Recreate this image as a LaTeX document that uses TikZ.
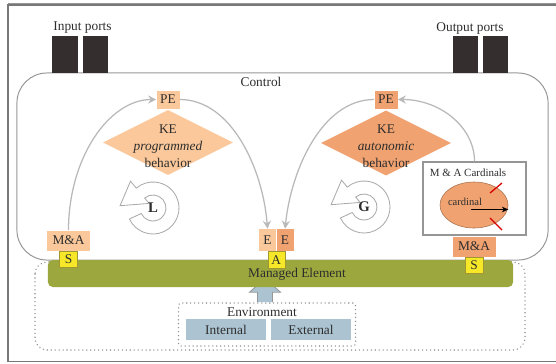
\documentclass[tikz,border=0pt]{standalone}
\usepackage{fontspec}
\setmainfont{Liberation Serif}
\usetikzlibrary{positioning,shapes.geometric,arrows.meta,calc}
\definecolor{peLight}{RGB}{250,200,155}
\definecolor{peDark}{RGB}{240,162,112}
\definecolor{sYellow}{RGB}{246,232,40}
\definecolor{sBorder}{RGB}{160,150,50}
\definecolor{meGreen}{RGB}{156,168,62}
\definecolor{envBlue}{RGB}{172,196,210}
\definecolor{portDark}{RGB}{52,46,46}
\definecolor{lineGray}{RGB}{150,150,150}
\definecolor{loopGray}{RGB}{185,185,185}
\definecolor{txtGray}{RGB}{45,45,45}
\tikzset{
  every node/.style={font=\fontsize{9.5}{12}\selectfont, text=txtGray, inner sep=0pt},
  port/.style={fill=portDark, minimum width=0.625cm, minimum height=0.925cm},
  pe/.style={minimum width=0.575cm, minimum height=0.45cm},
  ke/.style={diamond, minimum width=3.25cm, minimum height=1.625cm},
  ma/.style={minimum width=1.075cm, minimum height=0.5cm},
  sens/.style={fill=sYellow, draw=sBorder, line width=0.4pt, minimum width=0.45cm, minimum height=0.4cm},
  eff/.style={minimum width=0.425cm, minimum height=0.55cm},
  envpart/.style={fill=envBlue, minimum width=1.975cm, minimum height=0.525cm},
  dots/.style={draw=lineGray, line width=1.1pt, line cap=round, dash pattern=on 0.01pt off 2.8pt},
  loopline/.style={draw=loopGray, line width=0.9pt, -{Stealth[length=2mm, width=2mm]}},
  spin/.style={fill=white, draw=lineGray!80, line width=0.6pt},
}
% rotating arrow with a letter inside
\newcommand{\spinicon}[4]{%
  \begin{scope}[shift={(#2,#3)}, yscale=-1]
    \draw[spin] (205:26) arc[start angle=205, end angle=490, radius=26]
      -- (130:35) -- (176:33) -- (130:6) -- (130:13)
      arc[start angle=130, end angle=-155, radius=13] -- cycle;
    \node (#1) [font=\fontsize{10.5}{12}\selectfont\bfseries] at (0,0) {#4};
  \end{scope}}

\begin{document}
\begin{tikzpicture}[x=0.025cm, y=-0.025cm]
\useasboundingbox (0,0) rectangle (556,363);
\draw[lineGray!80!black, line width=0.8pt] (600,5) -- (8,5) -- (8,361.5) -- (600,361.5);
\draw[lineGray, line width=0.5pt] (8,3) -- (600,3);

% managed scope and control
\draw[dots, rounded corners=0.3cm] (35,262) rectangle (525,350);
\node (control) [draw=lineGray, line width=0.7pt, rounded corners=0.75cm,
  minimum width=13.275cm, minimum height=4.675cm] at (282.5,166.5) {};
\node (controltxt) at (261,82) {Control};

% ports
\node (inA) [port] at (65,54.5) {};
\node (inB) [port] at (95.5,54.5) {};
\node (intxt) at (82.5,28) {Input ports};
\node (outA) [port] at (465.5,54.5) {};
\node (outB) [port] at (495.5,54.5) {};
\node (outtxt) at (470,28) {Output ports};

% environment
\node (env) [dots, rounded corners=2pt, minimum width=4.425cm, minimum height=1.075cm] at (267,324.5) {};
\node (envtxt) at (262,312.5) {Environment};
\node (internal) [envpart] at (226,329.5) {Internal};
\node (external) [envpart] at (311,329.5) {External};
\coordinate (upbase) at ($(env.north)+(-2,0)$);
\draw[fill=envBlue, draw=lineGray, line width=0.6pt]
  ($(upbase)+(-7.5,0)$) -- ++(0,-10) -- ++(-8,0) -- ($(upbase)+(0,-24)$)
  -- ($(upbase)+(15.5,-10)$) -- ++(-8,0) -- ($(upbase)+(7.5,0)$);

% managed element
\node (managed) [fill=meGreen, rounded corners=0.12cm, minimum width=11.625cm, minimum height=0.675cm] at (280.5,273.5) {};
\node (managedtxt) at (297,274) {Managed Element};

% programmed loop
\node (keL) [ke, fill=peLight] at (168,142.5) {};
\node (keLtxt) [align=center] at (168,146) {KE\\\textit{programmed}\\behavior};
\node (peL) [pe, fill=peLight] at (168,99.5) {PE};
\node (maL) [ma, fill=peLight] at (68.5,240.5) {M\&A};
\node (sL) [sens, below=0pt of maL] {S};
\node (eL) [eff, fill=peLight] at (267.5,240) {E};
\node (eR) [eff, fill=peDark, right=0pt of eL] {E};
\node (act) [sens, minimum width=0.425cm, minimum height=0.425cm, anchor=north] at (eL.south east) {A};

% autonomic loop
\node (keR) [ke, fill=peDark] at (386,143) {};
\node (keRtxt) [align=center] at (386,146) {KE\\\textit{autonomic}\\behavior};
\node (peR) [pe, fill=peDark] at (386,99.5) {PE};
\node (card) [draw=lineGray, line width=0.8pt, fill=white, minimum width=2.575cm, minimum height=1.825cm] at (474.5,198.5) {};
\node (cardtxt) [font=\fontsize{7.8}{9}\selectfont] at (468,173) {M \& A Cardinals};
\node (cardell) [ellipse, fill=peDark, draw=peDark!70!black, line width=0.4pt, minimum width=1.7cm, minimum height=1.15cm] at (474,205) {};
\node (cardlbl) [font=\fontsize{7.5}{9}\selectfont] at (465,202) {cardinal};
\coordinate (cardtail) at (471,209.5);
\draw[-{Stealth[length=1.6mm, width=1.4mm]}, line width=0.5pt] (cardtail) -- (cardtail -| cardell.east);
\draw[red!85!black, line width=0.9pt] (490,193) -- (502,183) (490,218) -- (502,230);
\node (maR) [ma, fill=peDark] at (474,246.5) {M\&A};
\node (sR) [sens, below=0pt of maR] {S};

% loops
\draw[loopline] (maL.north) .. controls (68.5,158) and (109,99.5) .. (peL.west);
\draw[loopline] (peL.east) .. controls (232,99.5) and (263,170) .. (eL.north);
\draw[loopline] (peR.west) .. controls (322,99.5) and (291,170) .. (eR.north);
\draw[loopline] (card.north) .. controls (474.5,127) and (440,99.5) .. (peR.east);

\spinicon{iconL}{153}{208}{L}
\spinicon{iconG}{364}{207}{G}
\end{tikzpicture}
\end{document}
